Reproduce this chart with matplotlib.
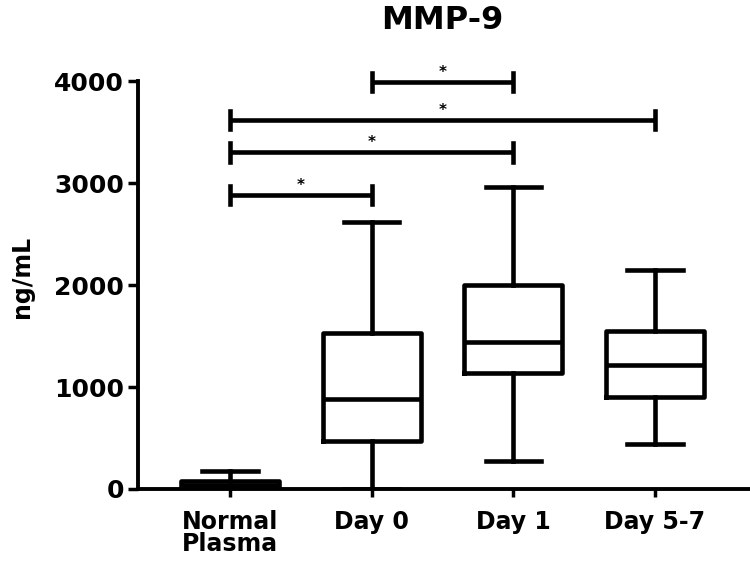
import matplotlib
matplotlib.use("Agg")
import matplotlib.pyplot as plt

plt.rcParams['font.family'] = ['DejaVu Sans']
plt.rcParams['font.weight'] = 'bold'

groups = ["Normal\nPlasma", "Day 0", "Day 1", "Day 5-7"]
whislo = [0, 0, 275, 440]
q1 = [0, 470, 1137, 902]
med = [40, 882, 1441, 1216]
q3 = [80, 1530, 2000, 1549]
whishi = [180, 2618, 2960, 2147]

# significance brackets: (group i, group j, height)
brackets = [(0, 1, 2880), (0, 2, 3300), (0, 3, 3620), (1, 2, 3990)]

fig = plt.figure(figsize=(7.5, 5.73), dpi=100)
ax = fig.add_axes([0.184, 0.1466, 0.816, 0.712])

stats = []
for i in range(len(groups)):
    stats.append({'whislo': whislo[i], 'q1': q1[i], 'med': med[i], 'q3': q3[i], 'whishi': whishi[i], 'fliers': []})

lw = 3.3
pos = [1, 2, 3, 4]
ax.bxp(stats, positions=pos, widths=0.69, showfliers=False,
       boxprops=dict(color='black', linewidth=lw),
       medianprops=dict(color='black', linewidth=lw),
       whiskerprops=dict(color='black', linewidth=lw),
       capprops=dict(color='black', linewidth=lw),
       capwidths=0.39)

for i, j, h in brackets:
    x1, x2 = pos[i], pos[j]
    ax.plot([x1, x2], [h, h], color='black', lw=lw, clip_on=False, solid_capstyle='butt')
    ax.plot([x1, x1], [h - 90, h + 90], color='black', lw=lw, clip_on=False)
    ax.plot([x2, x2], [h - 90, h + 90], color='black', lw=lw, clip_on=False)
    ax.text((x1 + x2) / 2, h + 20, "*", ha='center', va='bottom', fontsize=11, fontweight='bold')

ax.set_xlim(0.351, 4.67)
ax.set_ylim(0, 4000)
ax.set_yticks([0, 1000, 2000, 3000, 4000])
ax.set_xticks(pos)
ax.set_xticklabels(groups, fontsize=17, fontweight='bold', linespacing=0.92)
ax.tick_params(axis='y', labelsize=18, width=2.5, length=7, pad=3)
ax.tick_params(axis='x', width=2.5, length=6, pad=9)
for lab in ax.get_yticklabels():
    lab.set_fontweight('bold')

ax.spines['top'].set_visible(False)
ax.spines['right'].set_visible(False)
ax.spines['left'].set_linewidth(2.8)
ax.spines['bottom'].set_linewidth(2.8)

ax.set_ylabel("ng/mL", fontsize=17, fontweight='bold')
ax.yaxis.set_label_coords(-0.17, 0.52)
fig.text(0.589, 0.965, "MMP-9", ha='center', va='center', fontsize=23, fontweight='bold')

fig.savefig("out.png", dpi=100)
